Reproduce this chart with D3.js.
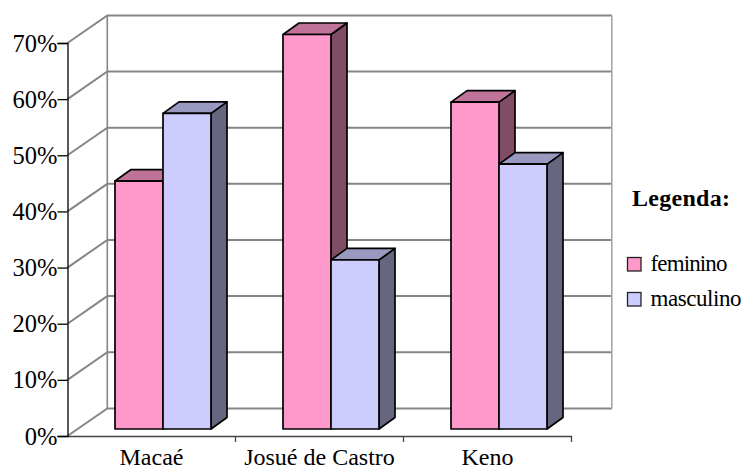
<!DOCTYPE html>
<html>
<head>
<meta charset="utf-8">
<script src="https://cdn.jsdelivr.net/npm/d3@7/dist/d3.min.js"></script>
<style>
html,body{margin:0;padding:0;background:#fff}
svg{display:block}
text{font-family:"Liberation Serif","Times New Roman",serif;fill:#000}
</style>
</head>
<body>
<svg id="chart" width="742" height="470"></svg>
<script>
const categories = ["Macaé", "Josué de Castro", "Keno"];
const seriesNames = ["feminino", "masculino"];
const feminino = [44, 70, 58];
const masculino = [56, 30, 47];
const valueTicks = [0, 10, 20, 30, 40, 50, 60, 70];
const legendTitle = "Legenda:";

const fills = {feminino: "#FF99CC", masculino: "#CCCCFF"};
const tops = {feminino: "#BF7399", masculino: "#9999BF"};
const sides = {feminino: "#804C66", masculino: "#666680"};
const gridColor = "#868686";

const svg = d3.select("#chart");

// Front plane of the axes, and the oblique offset back to the rear wall
const x0 = 67.5, x1 = 571.5, yBase = 436, yTop = 43;
const wallDx = 39.8, wallDy = -27.6;
const barFrontDx = 11.5, barFrontDy = -7;
const barDepthDx = 16, barDepthDy = -11.5;

const y = d3.scaleLinear().domain([0, 70]).range([yBase, yTop]);
const yBar = d3.scaleLinear().domain([0, 70]).range([yBase + barFrontDy, 34.5]);
const xBand = d3.scaleBand().domain(categories).range([x0, x1]);
const xInner = d3.scaleBand().domain(seriesNames).range([0, 96]);

// Rear wall and left floor lines
const walls = svg.append("g").attr("fill", "none").attr("stroke", gridColor);
valueTicks.forEach(t => {
  const py = y(t);
  walls.append("path")
    .attr("stroke-width", 2)
    .attr("d", d3.line()([[x0, py], [x0 + wallDx, py + wallDy], [x1 + wallDx + 0.5, py + wallDy]]));
});
walls.append("line")
  .attr("stroke-width", 1.6)
  .attr("x1", x0 + wallDx).attr("x2", x0 + wallDx)
  .attr("y1", y(70) + wallDy).attr("y2", y(0) + wallDy);
walls.append("line")
  .attr("stroke", "#a6a6a6").attr("stroke-width", 1.6)
  .attr("x1", x1 + wallDx + 0.5).attr("x2", x1 + wallDx + 0.5)
  .attr("y1", y(70) + wallDy).attr("y2", y(0) + wallDy);

// Category axis: labels sit mid-band, tick marks on the band boundaries
const xAxis = svg.append("g")
  .attr("transform", `translate(0,${yBase})`)
  .call(d3.axisBottom(xBand).tickSize(0).tickPadding(12));
xAxis.select(".domain").attr("stroke", "#444").attr("stroke-width", 1.3);
xAxis.selectAll("text").attr("font-size", 24).attr("fill", "#000").attr("font-family", "Liberation Serif");
const boundaries = [x0 + xBand.step(), x0 + 2 * xBand.step(), x1];
xAxis.selectAll("line.boundary").data(boundaries).join("line")
  .attr("class", "boundary")
  .attr("x1", d => d).attr("x2", d => d)
  .attr("y1", 0).attr("y2", 6)
  .attr("stroke", "#444").attr("stroke-width", 1.3);

// Value axis
const yAxis = svg.append("g")
  .attr("transform", `translate(${x0},0)`)
  .call(d3.axisLeft(y).tickValues(valueTicks).tickSize(10).tickPadding(0).tickFormat(d => d + "%"));
yAxis.select(".domain").attr("stroke", "#000").attr("stroke-width", 1.3);
yAxis.selectAll(".tick line").attr("stroke", "#000").attr("stroke-width", 1.3);
yAxis.selectAll("text").attr("font-size", 24.5).attr("fill", "#000").attr("font-family", "Liberation Serif").attr("dy", "0.33em");

// Bars as oblique boxes: side, top, then front face
const barData = categories.flatMap((c, i) => [
  {category: c, series: "feminino", value: feminino[i]},
  {category: c, series: "masculino", value: masculino[i]}
]);
const bars = svg.append("g").attr("stroke", "#000").attr("stroke-width", 1.7).attr("stroke-linejoin", "round");
bars.selectAll("g.bar").data(barData).join("g").attr("class", "bar").each(function (d) {
  const g = d3.select(this);
  const left = xBand(d.category) + (xBand.bandwidth() - 96) / 2 + barFrontDx + xInner(d.series);
  const right = left + xInner.bandwidth();
  const top = yBar(d.value), bottom = yBar(0);
  const poly = pts => d3.line()(pts) + "Z";
  g.append("path").attr("fill", sides[d.series]).attr("d", poly([
    [right, bottom], [right + barDepthDx, bottom + barDepthDy],
    [right + barDepthDx, top + barDepthDy], [right, top]]));
  g.append("path").attr("fill", tops[d.series]).attr("d", poly([
    [left, top], [left + barDepthDx, top + barDepthDy],
    [right + barDepthDx, top + barDepthDy], [right, top]]));
  g.append("rect").attr("fill", fills[d.series])
    .attr("x", left).attr("y", top).attr("width", right - left).attr("height", bottom - top);
});

// Legend
const legend = svg.append("g");
legend.append("text").text(legendTitle)
  .attr("x", 632).attr("y", 206)
  .attr("font-size", 24).attr("font-weight", "bold").attr("textLength", 98).attr("lengthAdjust", "spacing");
const legendRows = [{y: 271, w: 77}, {y: 306, w: 91}];
seriesNames.forEach((name, i) => {
  legend.append("rect")
    .attr("x", 627.5).attr("y", legendRows[i].y - 13.5).attr("width", 13.5).attr("height", 13.5)
    .attr("fill", fills[name]).attr("stroke", "#222").attr("stroke-width", 1.3);
  legend.append("text").text(name)
    .attr("x", 650.5).attr("y", legendRows[i].y)
    .attr("font-size", 23).attr("textLength", legendRows[i].w).attr("lengthAdjust", "spacing");
});
</script>
</body>
</html>
